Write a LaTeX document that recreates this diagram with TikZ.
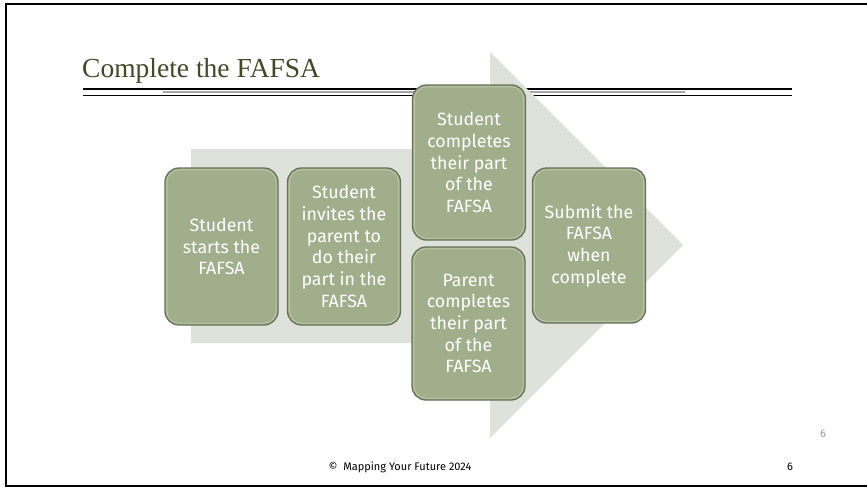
\documentclass[tikz,border=0pt]{standalone}
\usepackage{fontspec}
\setmainfont{Liberation Serif}
\setsansfont{Fira Sans}
\definecolor{titleolive}{RGB}{66,72,40}
\definecolor{chevgray}{RGB}{222,226,218}
\definecolor{sage}{RGB}{160,174,139}
\definecolor{sageedge}{RGB}{104,114,90}
\definecolor{sagelight}{RGB}{190,202,172}
\begin{document}
\begin{tikzpicture}[x=1pt,y=-1pt,
  stepbox/.style={draw=sageedge,line width=1.3pt,fill=sage,rounded corners=14pt,
    minimum width=113pt,minimum height=157pt,text=white,align=center,
    font=\sffamily\fontsize{17.8}{21.7}\selectfont,inner sep=0pt},
  footer/.style={font=\sffamily\fontsize{11}{14}\selectfont}]
\useasboundingbox (0,0) rectangle (867,488);
% slide frame
\draw[line width=2.5pt] (867,4) -- (6,4) -- (6,486) -- (867,486);
% title and rule
\node[anchor=base west,inner sep=0pt,text=titleolive,font=\fontsize{27.5}{32}\selectfont] (title) at (82,77) {Complete the FAFSA};
\draw[line width=2.6pt] (83,89) -- (792,89);
\draw[line width=0.9pt] (83,95) -- (792,95);
\draw[gray!70,line width=1.6pt] (163,92) -- (685,92);
% background chevron
\fill[chevgray] (191,149) -- (490,149) -- (490,52) -- (683,245) -- (490,438) -- (490,343) -- (191,343) -- cycle;
% steps
\node[stepbox] (start) at (221.5,246.5) {Student\\starts the\\FAFSA};
\node[stepbox] (invite) at (344,246.5) {Student\\invites the\\parent to\\do their\\part in the\\FAFSA};
\node[stepbox,minimum height=155pt] (student) at (469,162.5) {Student\\completes\\their part\\of the\\FAFSA};
\node[stepbox,minimum height=153pt] (parent) at (468.5,323.5) {Parent\\completes\\their part\\of the\\FAFSA};
\node[stepbox,minimum height=155pt] (submit) at (589,245.5) {Submit the\\FAFSA\\when\\complete};
% bevel highlight inside each step
\foreach \s in {start,invite,student,parent,submit}
  \draw[sagelight,line width=0.8pt,rounded corners=12pt]
    ([shift={(2.5pt,2.5pt)}]\s.south west) rectangle ([shift={(-2.5pt,-2.5pt)}]\s.north east);
% footer
\node[footer] (copy) at (400,467) {©\ \ Mapping Your Future 2024};
\node[footer] (pg) at (790,467) {6};
\node[footer,text=gray!80] (pgnum) at (823,434) {6};
\end{tikzpicture}
\end{document}
